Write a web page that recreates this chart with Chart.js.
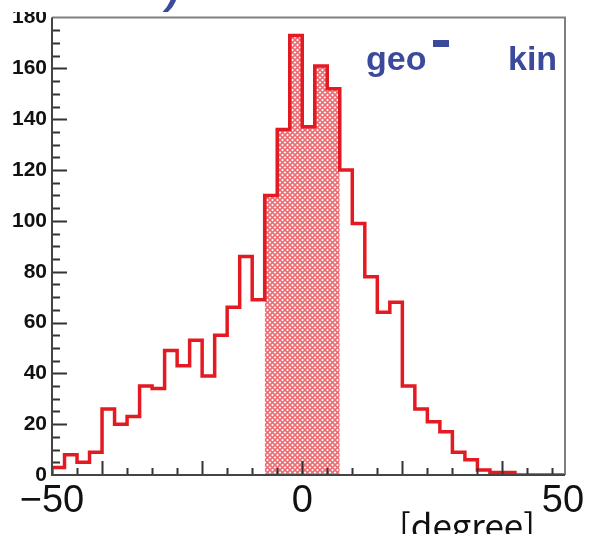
<!DOCTYPE html>
<html>
<head>
<meta charset="utf-8">
<script src="https://cdn.jsdelivr.net/npm/chart.js@4.4.1/dist/chart.umd.min.js"></script>
<style>
  html, body { margin: 0; padding: 0; background: #fff; }
  #wrap { width: 590px; height: 534px; position: relative; }
</style>
</head>
<body>
<div id="wrap"><canvas id="histChart"></canvas></div>
<script>
// histogram: 2.5 degree bins starting at -50
const binStart = -50;
const binWidth = 2.5;
const counts = [3, 8, 5, 9, 26, 20, 23, 35, 34, 49, 43, 53, 39, 55, 66, 86, 69, 110, 136, 173,
                137, 161, 152, 120, 99, 78, 64, 68, 35, 26, 21, 17, 9, 6, 2, 1, 1, 0, 0, 0, 0];
const hatchFrom = -7.5;
const hatchTo = 7.5;
const xTickValues = [-50, 0, 50];
const xTickLabels = ['\u221250', '0', '50'];
const yMax = 180;
const yStep = 20;
const textLabels = ['geo', 'kin'];
const unitLabel = '[degree]';

const red = '#e41a22';
const blue = '#3c4a9b';

const edges = counts.map((c, i) => binStart + i * binWidth);
const xMax = binStart + counts.length * binWidth;

// outline points, stepped
const outline = [{x: binStart, y: 0}];
counts.forEach((c, i) => outline.push({x: edges[i], y: c}));
outline.push({x: xMax, y: 0});

const hatched = [];
counts.forEach((c, i) => {
    if (edges[i] >= hatchFrom && edges[i] < hatchTo) hatched.push({x: edges[i], y: c});
});
hatched.push({x: hatchTo, y: hatched[hatched.length - 1].y});

function makeHatch() {
    const s = 5;
    const c = document.createElement('canvas');
    c.width = s; c.height = s;
    const g = c.getContext('2d');
    g.fillStyle = '#fff';
    g.fillRect(0, 0, s, s);
    g.strokeStyle = '#ec6d73';
    g.lineWidth = 1.6;
    g.beginPath();
    g.moveTo(-1, -1); g.lineTo(s + 1, s + 1);
    g.moveTo(-1, s + 1); g.lineTo(s + 1, -1);
    g.stroke();
    return g.createPattern(c, 'repeat');
}

const framePlugin = {
    id: 'frame',
    afterDatasetsDraw(chart) {
        const {ctx, chartArea: a, scales} = chart;
        const xs = scales.x, ys = scales.y;
        ctx.save();

        // ticks inside the frame
        ctx.strokeStyle = '#333';
        ctx.lineWidth = 2;
        ctx.beginPath();
        for (let v = 5; v < yMax; v += 5) {
            const y = Math.round(ys.getPixelForValue(v)) + 0.5;
            const len = v % yStep === 0 ? 15 : 8;
            ctx.moveTo(a.left, y); ctx.lineTo(a.left + len, y);
        }
        for (let v = -45; v <= 50; v += 5) {
            const x = Math.round(xs.getPixelForValue(v)) + 0.5;
            const len = v % 20 === 0 ? 14 : 7;
            ctx.moveTo(x, a.bottom); ctx.lineTo(x, a.bottom - len);
        }
        ctx.stroke();

        // frame
        ctx.strokeStyle = '#808080';
        ctx.lineWidth = 2;
        ctx.beginPath();
        ctx.moveTo(a.left, a.top); ctx.lineTo(a.right, a.top); ctx.lineTo(a.right, a.bottom);
        ctx.stroke();
        ctx.strokeStyle = '#444';
        ctx.beginPath();
        ctx.moveTo(a.left, a.top); ctx.lineTo(a.left, a.bottom); ctx.lineTo(a.right, a.bottom);
        ctx.stroke();

        // big x labels
        ctx.fillStyle = '#111';
        ctx.font = '38px "Liberation Sans", Arial, sans-serif';
        ctx.textAlign = 'center';
        ctx.textBaseline = 'alphabetic';
        xTickValues.forEach((v, i) => {
            let x = xs.getPixelForValue(v);
            if (i === xTickValues.length - 1) x = a.right - 2;
            ctx.fillText(xTickLabels[i], x, 512);
        });

        ctx.font = '35px "Noto Sans CJK JP", sans-serif';
        ctx.fillText(unitLabel, 467, 539);

        // annotation text
        ctx.fillStyle = blue;
        ctx.font = 'bold 34px "Liberation Sans", Arial, sans-serif';
        ctx.textAlign = 'left';
        ctx.fillText(textLabels[0], 366, 70);
        ctx.fillText(textLabels[1], 508, 70);
        ctx.fillRect(433, 40, 16, 7);

        // cropped top of the slide
        ctx.fillStyle = '#fff';
        ctx.fillRect(0, 0, 590, 12);
        ctx.fillStyle = blue;
        ctx.font = 'bold italic 40px "Liberation Sans", Arial, sans-serif';
        ctx.fillText(')', 166, 4);
        ctx.restore();
    }
};

new Chart(document.getElementById('histChart'), {
    type: 'line',
    data: {
        datasets: [{
            data: outline,
            borderColor: red,
            borderWidth: 3.5,
            stepped: 'before',
            pointRadius: 0,
            fill: false,
            borderJoinStyle: 'miter'
        }, {
            data: hatched,
            borderWidth: 0,
            borderColor: 'rgba(0,0,0,0)',
            backgroundColor: makeHatch(),
            stepped: 'before',
            pointRadius: 0,
            fill: 'origin'
        }]
    },
    options: {
        responsive: true,
        maintainAspectRatio: false,
        animation: false,
        layout: { padding: { top: 15, right: 25, left: 0, bottom: 0 } },
        plugins: { legend: { display: false }, tooltip: { enabled: false } },
        scales: {
            x: {
                type: 'linear',
                min: binStart,
                max: xMax,
                grid: { display: false, drawTicks: false },
                border: { display: false },
                ticks: { display: false },
                afterFit(scale) { scale.height = 59; }
            },
            y: {
                min: 0,
                max: yMax,
                grid: { display: false, drawTicks: false },
                border: { display: false },
                ticks: {
                    stepSize: yStep,
                    padding: 5,
                    color: '#111',
                    font: { family: '"Liberation Sans", Arial, sans-serif', size: 21, weight: 'bold' }
                },
                afterFit(scale) { scale.width = 52; }
            }
        }
    },
    plugins: [framePlugin]
});
</script>
</body>
</html>
